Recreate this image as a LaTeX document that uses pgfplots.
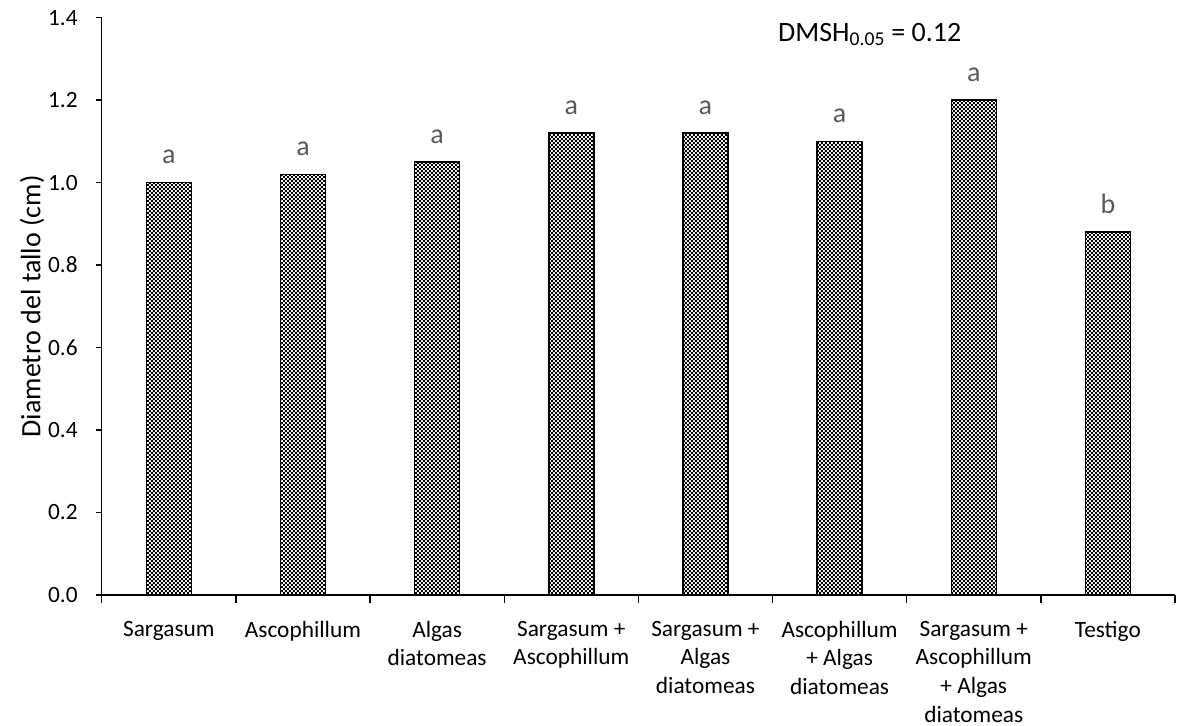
\documentclass[border=0pt]{standalone}
\usepackage{pgfplots}
\pgfplotsset{compat=1.18}
\usepackage{fontspec}
\setmainfont{Carlito}
\usetikzlibrary{patterns}
\pgfdeclarepatternformonly{checker}{\pgfpointorigin}{\pgfpoint{3pt}{3pt}}{\pgfpoint{3pt}{3pt}}{%
  \pgfpathrectangle{\pgfpointorigin}{\pgfpoint{1.5pt}{1.5pt}}%
  \pgfpathrectangle{\pgfpoint{1.5pt}{1.5pt}}{\pgfpoint{1.5pt}{1.5pt}}%
  \pgfusepath{fill}}
\begin{document}
\begin{tikzpicture}
\begin{axis}[
  scale only axis,
  width=805pt, height=433pt,
  xmin=-0.5, xmax=7.5,
  ymin=0, ymax=1.4,
  axis x line=bottom, axis y line=left,
  axis line style={-, line width=1pt, black},
  ytick={0,0.2,...,1.4},
  yticklabel style={/pgf/number format/.cd, fixed, fixed zerofill, precision=1, /tikz/.cd, xshift=-10pt},
  /pgf/number format/assume math mode=true,
  xtick=data,
  xticklabels={Sargasum, Ascophillum, {Algas\\diatomeas}, {Sargasum +\\Ascophillum}, {Sargasum +\\Algas\\diatomeas}, {Ascophillum\\+ Algas\\diatomeas}, {Sargasum +\\Ascophillum\\+ Algas\\diatomeas}, Testigo},
  xticklabel style={align=center, font=\fontsize{17.5}{21.5}\selectfont, yshift=-11.5pt},
  major x tick style={draw=none},
  minor xtick={-0.5,0.5,...,7.5},
  minor x tick style={line width=1pt, black},
  minor tick length=6pt,
  major tick length=4.5pt,
  tick align=outside,
  tick style={line width=1pt, black},
  ticklabel style={font=\fontsize{17.5}{21.5}\selectfont},
  ylabel={Diametro del tallo (cm)},
  ylabel style={font=\fontsize{21}{25}\selectfont, yshift=-4pt},
  ybar, bar width=33.75pt,
  nodes near coords,
  point meta=explicit symbolic,
  every node near coord/.append style={font=\fontsize{21}{25}\selectfont, text=black!65, anchor=base, yshift=14pt},
  clip=false,
]
\addplot[draw=black, line width=1.1pt, pattern=checker, pattern color=black] table[meta=lab] {
x y lab
0 1.00 a
1 1.02 a
2 1.05 a
3 1.12 a
4 1.12 a
5 1.10 a
6 1.20 a
7 0.88 b
};
\node[anchor=base, font=\fontsize{21}{25}\selectfont] at (axis cs:5.225,1.342) {DMSH\textsubscript{0.05} = 0.12};
\end{axis}
\pgfresetboundingbox
\path (-76.3pt,-98.25pt) rectangle (806.5pt,446.25pt);
\end{tikzpicture}
\end{document}
